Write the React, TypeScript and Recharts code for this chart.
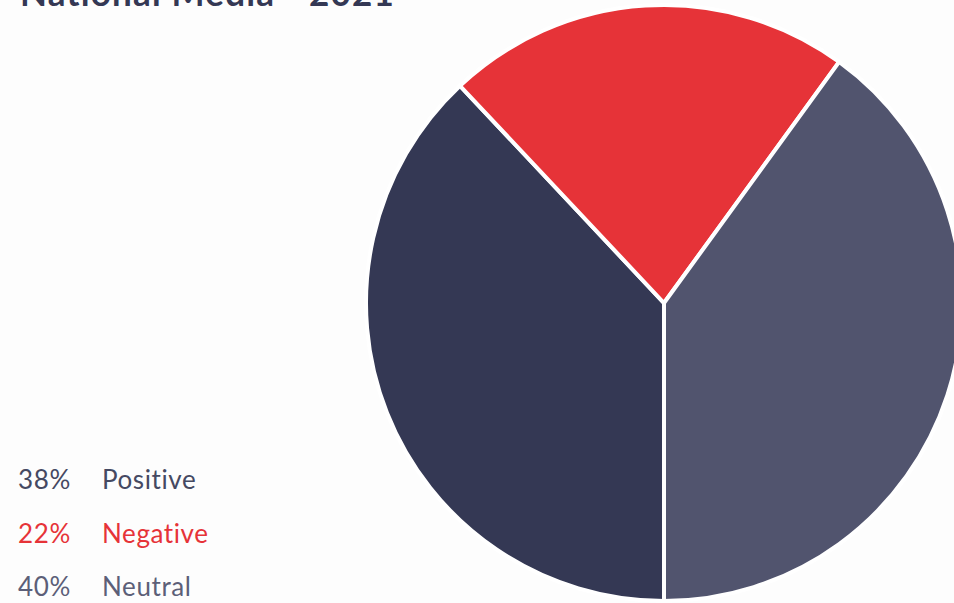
import React from "react";
import { PieChart, Pie, Cell } from "recharts";

const categories = ["Positive", "Negative", "Neutral"];
const shares = [38, 22, 40];
const sliceColors = ["#343854", "#e63338", "#51546e"];
const labelColors = ["#454962", "#e63338", "#5c5f78"];

const title = "National Media - 2021";

const data = categories.map((name, i) => ({ name, value: shares[i] }));

export default function App() {
  return (
    <div
      style={{
        position: "absolute",
        top: 0,
        left: 0,
        width: 954,
        height: 603,
        background: "#fdfdfd",
        overflow: "hidden",
      }}
    >
      <PieChart width={954} height={603} margin={{ top: 0, right: 0, bottom: 0, left: 0 }}>
        <Pie
          data={data}
          dataKey="value"
          nameKey="name"
          cx={664}
          cy={303}
          outerRadius={298}
          startAngle={-90}
          endAngle={-450}
          stroke="#ffffff"
          strokeWidth={4}
          isAnimationActive={false}
        >
          {data.map((d, i) => (
            <Cell key={d.name} fill={sliceColors[i]} />
          ))}
        </Pie>
      </PieChart>
      <svg
        width={954}
        height={603}
        style={{ position: "absolute", top: 0, left: 0, pointerEvents: "none" }}
      >
        <text
          x={20}
          y={6}
          fontFamily="Lato, 'Noto Sans', sans-serif"
          fontWeight={700}
          fontSize={35}
          letterSpacing={1.2}
          fill="#343854"
        >
          {title}
        </text>
        {categories.map((c, i) => (
          <g
            key={c}
            fontFamily="Lato, 'Noto Sans', sans-serif"
            fontSize={26}
            letterSpacing={0.6}
            fill={labelColors[i]}
          >
            <text x={18} y={489 + i * 53.5}>{shares[i]}%</text>
            <text x={102} y={489 + i * 53.5}>{c}</text>
          </g>
        ))}
      </svg>
    </div>
  );
}
